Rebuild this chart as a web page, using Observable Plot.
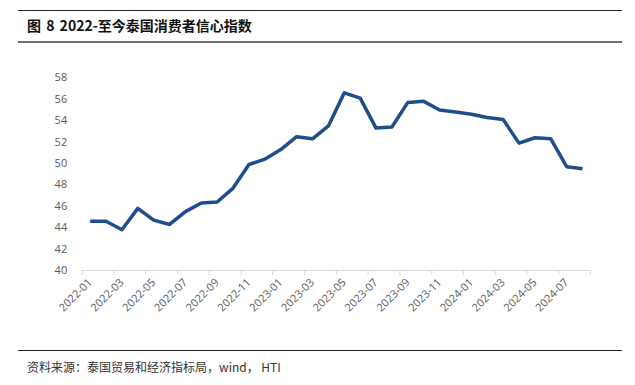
<!DOCTYPE html>
<html>
<head>
<meta charset="utf-8">
<script src="https://cdn.jsdelivr.net/npm/d3@7"></script>
<script src="https://cdn.jsdelivr.net/npm/@observablehq/plot@0.6"></script>
<style>
  body { margin:0; width:635px; height:385px; position:relative; background:#fff; overflow:hidden; }
  .hl { position:absolute; left:18px; width:604px; }
  #title { position:absolute; left:27px; top:15px; line-height:20px; font-family:"Noto Sans CJK SC"; font-weight:700; font-size:14px; color:#111; white-space:nowrap; word-spacing:2px; }
  #source { position:absolute; left:27px; top:359px; line-height:16px; font-family:"Noto Sans CJK SC"; font-size:12px; color:#333; white-space:nowrap; }
  #chart { position:absolute; left:0; top:43px; }
</style>
</head>
<body>
<div class="hl" style="top:9.5px;height:1px;background:#222"></div>
<div id="title">图 8 2022-至今泰国消费者信心指数</div>
<div class="hl" style="top:41px;height:2px;background:#6e6e6e"></div>
<div id="chart"></div>
<div class="hl" style="top:350px;height:1px;background:#222"></div>
<div id="source">资料来源：泰国贸易和经济指标局，wind， HTI</div>
<script>
const months = [
  "2022-01","2022-02","2022-03","2022-04","2022-05","2022-06","2022-07","2022-08",
  "2022-09","2022-10","2022-11","2022-12","2023-01","2023-02","2023-03","2023-04",
  "2023-05","2023-06","2023-07","2023-08","2023-09","2023-10","2023-11","2023-12",
  "2024-01","2024-02","2024-03","2024-04","2024-05","2024-06","2024-07","2024-08"
];
const values = [
  44.6, 44.6, 43.8, 45.8, 44.7, 44.3, 45.5, 46.3,
  46.4, 47.7, 49.9, 50.4, 51.3, 52.5, 52.3, 53.5,
  56.6, 56.1, 53.3, 53.4, 55.7, 55.8, 55.0, 54.8,
  54.6, 54.3, 54.1, 51.9, 52.4, 52.3, 49.7, 49.5
];
const yTicks = [40, 42, 44, 46, 48, 50, 52, 54, 56, 58];
const xTickLabels = months.filter((m, i) => i % 2 === 0);

const data = months.map((m, i) => ({i, m, v: values[i]}));
const labelIdx = months.map((m, i) => i).filter(i => i % 2 === 0);
const boundaries = d3.range(0, months.length + 1, 2).map(i => i - 0.5);

const chart = Plot.plot({
  width: 635,
  height: 300,
  marginLeft: 81.7,
  marginRight: 45,
  marginTop: 34.3,
  marginBottom: 73,
  style: {fontFamily: "'Open Sans', sans-serif", fontSize: "11px", background: "#fff"},
  x: {type: "linear", domain: [-0.5, months.length - 0.5]},
  y: {domain: [40, 58]},
  marks: [
    Plot.axisY({ticks: yTicks, tickSize: 0, tickPadding: 15, fill: "#595959", fontSize: 11, label: null}),
    Plot.ruleY([40], {stroke: "#d9d9d9", strokeWidth: 1}),
    Plot.axisX({ticks: boundaries, tickSize: 5, stroke: "#d9d9d9", tickFormat: () => "", label: null}),
    Plot.axisX({ticks: labelIdx, tickSize: 0, tickPadding: 10, tickRotate: -45,
      tickFormat: i => xTickLabels[i / 2], fill: "#595959", fontSize: 11, label: null}),
    Plot.line(data, {x: "i", y: "v", stroke: "#1f4e8c", strokeWidth: 3.5, strokeLinejoin: "round", strokeLinecap: "butt"})
  ]
});
document.getElementById("chart").appendChild(chart);
</script>
</body>
</html>
